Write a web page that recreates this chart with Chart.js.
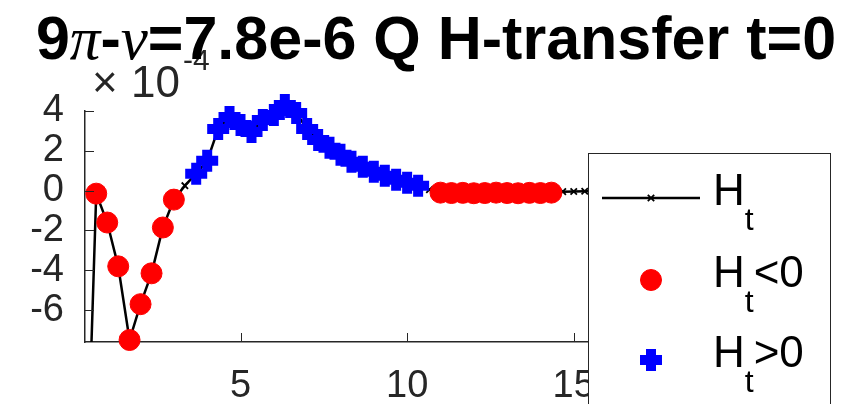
<!DOCTYPE html>
<html>
<head>
<meta charset="utf-8">
<script src="https://cdn.jsdelivr.net/npm/chart.js@4/dist/chart.umd.min.js"></script>
<style>
  html, body { margin: 0; padding: 0; background: #fff; }
  #wrap { width: 848px; height: 404px; }
</style>
</head>
<body>
<div id="wrap"><canvas id="htChart"></canvas></div>
<script>
// x positions (radial index / 3) and H_t values in units of 1e-4
const xs = [0.33, 0.67, 1, 1.33, 1.67, 2, 2.33, 2.67, 3, 3.33,
            3.67, 4, 4.33, 4.67, 5, 5.33, 5.67, 6, 6.33, 6.67,
            7, 7.33, 7.67, 8, 8.33, 8.67, 9, 9.33, 9.67, 10,
            10.33, 10.67, 11, 11.33, 11.67, 12, 12.33, 12.67, 13, 13.33,
            13.67, 14, 14.33, 14.67, 15, 15.33, 15.67, 16, 16.33, 16.67,
            17, 17.33, 17.67, 18, 18.33, 18.67, 19, 19.33, 19.67, 20,
            20.33, 20.67, 21, 21.33]
const ht = [-18, -0.15, -1.6, -3.8, -7.5, -5.7, -4.15, -1.85, -0.45, 0.25,
            0.85, 1.5, 3.1, 3.7, 3.3, 2.95, 3.55, 3.8, 4.3, 3.9,
            3.1, 2.55, 2.15, 1.8, 1.45, 1.2, 0.95, 0.75, 0.55, 0.4,
            0.25, 0.05, -0.1, -0.12, -0.11, -0.13, -0.12, -0.1, -0.12, -0.13,
            -0.11, -0.12, -0.1, -0.05, -0.04, -0.03, -0.03, -0.02, -0.03, -0.02,
            -0.02, -0.01, -0.02, -0.01, -0.01, -0.01, -0.01, 0, -0.01, 0,
            0, 0, 0, 0]
// which points get the coloured markers
const negIdx = [1, 2, 3, 4, 5, 6, 7, 8, 32, 33, 34, 35, 36, 37, 38, 39, 40, 41, 42]
const posIdx = [10, 11, 12, 13, 14, 15, 16, 17, 18, 19, 20, 21, 22, 23, 24, 25, 26, 27, 28, 29, 30]

const xTicks = [5, 10, 15, 20]
const yTicks = [-6, -4, -2, 0, 2, 4]
const legendLabels = [['H', 't', ''], ['H', 't', '<0'], ['H', 't', '>0']]

const FONT = "'Liberation Sans', Arial, Helvetica, sans-serif"
const AXIS = '#262626'

const pts = idx => idx.map(i => ({ x: xs[i], y: ht[i] }))

// inward tick marks, MATLAB style
const tickMarks = {
    id: 'tickMarks',
    afterDatasetsDraw(chart) {
        const { ctx, chartArea: a, scales } = chart
        ctx.save()
        ctx.strokeStyle = AXIS
        ctx.lineWidth = 1
        ctx.beginPath()
        xTicks.forEach(v => {
            const px = Math.round(scales.x.getPixelForValue(v)) + 0.5
            ctx.moveTo(px, a.bottom)
            ctx.lineTo(px, a.bottom - 9)
        })
        yTicks.forEach(v => {
            const py = Math.round(scales.y.getPixelForValue(v)) + 0.5
            ctx.moveTo(a.left, py)
            ctx.lineTo(a.left + 9, py)
        })
        ctx.stroke()
        ctx.restore()
    }
}

// exponent label and title
const titleAndExp = {
    id: 'titleAndExp',
    afterDraw(chart) {
        const { ctx, chartArea: a } = chart
        ctx.save()
        ctx.fillStyle = AXIS
        ctx.textBaseline = 'alphabetic'
        ctx.font = '44px ' + FONT
        ctx.fillText('\u00d7', 92, 97)
        ctx.fillText('10', 131, 97)
        ctx.font = '30px ' + FONT
        ctx.fillText('-4', 183, 70)

        const parts = [
            ['9', 'bold 61px ' + FONT],
            ['\u03c0', 'italic 61px "Liberation Serif", serif'],
            ['-', 'bold 61px ' + FONT],
            ['\u03bd', 'italic 61px "Liberation Serif", serif'],
            ['=7.8e-6 Q H-transfer t=0', 'bold 61px ' + FONT]
        ]
        let total = 0
        parts.forEach(p => { ctx.font = p[1]; total += ctx.measureText(p[0]).width })
        let x = (a.left + a.right) / 2 - total / 2
        ctx.fillStyle = '#000'
        parts.forEach(p => {
            ctx.font = p[1]
            ctx.fillText(p[0], x, 59)
            x += ctx.measureText(p[0]).width
        })
        ctx.restore()
    }
}

// boxed legend drawn over the right part of the axes
const boxLegend = {
    id: 'boxLegend',
    afterDraw(chart) {
        const ctx = chart.ctx
        const ds = chart.data.datasets
        const left = 588, top = 153
        ctx.save()
        ctx.fillStyle = '#fff'
        ctx.fillRect(left, top, 242, 270)
        ctx.strokeStyle = AXIS
        ctx.lineWidth = 1
        ctx.strokeRect(left + 0.5, top + 0.5, 242, 270)

        const rowY = [198, 280, 360]
        legendLabels.forEach((lab, i) => {
            const y = rowY[i]
            const d = ds[i]
            if (i === 0) {
                ctx.strokeStyle = d.borderColor
                ctx.lineWidth = d.borderWidth
                ctx.beginPath()
                ctx.moveTo(602, y)
                ctx.lineTo(700, y)
                ctx.stroke()
            }
            ctx.fillStyle = d.pointBackgroundColor
            ctx.strokeStyle = d.pointBorderColor
            ctx.lineWidth = d.pointBorderWidth
            Chart.helpers.drawPoint(ctx, {
                pointStyle: d.pointStyle,
                radius: d.pointRadius,
                borderWidth: d.pointBorderWidth,
                rotation: 0
            }, 651, y)

            ctx.fillStyle = '#000'
            ctx.font = '44px ' + FONT
            ctx.fillText(lab[0], 713, y + 7)
            let x = 713 + ctx.measureText(lab[0]).width
            ctx.font = '32px ' + FONT
            ctx.fillText(lab[1], x, y + 32)
            x += ctx.measureText(lab[1]).width
            ctx.font = '44px ' + FONT
            ctx.fillText(lab[2], x, y + 7)
        })
        ctx.restore()
    }
}

new Chart(document.getElementById('htChart'), {
    type: 'scatter',
    data: {
        datasets: [{
            label: 'H_t',
            data: xs.map((x, i) => ({ x: x, y: ht[i] })),
            showLine: true,
            borderColor: '#000',
            borderWidth: 2.5,
            pointStyle: 'crossRot',
            pointRadius: 4.5,
            pointBorderWidth: 1.8,
            pointBorderColor: '#000',
            pointBackgroundColor: '#000',
            clip: 0,
            order: 3
        }, {
            label: 'H_t<0',
            data: pts(negIdx),
            showLine: false,
            pointStyle: 'circle',
            pointRadius: 10.5,
            pointBorderWidth: 1,
            pointBorderColor: '#ff0000',
            pointBackgroundColor: '#ff0000',
            clip: false,
            order: 2
        }, {
            label: 'H_t>0',
            data: pts(posIdx),
            showLine: false,
            pointStyle: 'cross',
            pointRadius: 11,
            pointBorderWidth: 10,
            pointBorderColor: '#0000ff',
            pointBackgroundColor: '#0000ff',
            clip: false,
            order: 1
        }]
    },
    options: {
        responsive: true,
        maintainAspectRatio: false,
        animation: false,
        layout: { padding: { top: 111, right: 61, left: 0, bottom: 0 } },
        plugins: {
            legend: { display: false },
            tooltip: { enabled: false }
        },
        scales: {
            x: {
                type: 'linear',
                min: 0.333,
                max: 21.4,
                afterBuildTicks: axis => { axis.ticks = xTicks.map(v => ({ value: v })) },
                afterFit: s => { s.height = 62 },
                grid: { display: false, drawTicks: false },
                border: { display: true, color: AXIS, width: 1.5 },
                ticks: { color: AXIS, padding: 22, maxRotation: 0, autoSkip: false, font: { family: FONT, size: 38 } }
            },
            y: {
                min: -7.6,
                max: 4,
                afterBuildTicks: axis => { axis.ticks = yTicks.map(v => ({ value: v })) },
                afterFit: s => { s.width = 85 },
                grid: { display: false, drawTicks: false },
                border: { display: true, color: AXIS, width: 1.5 },
                ticks: { color: AXIS, padding: 21, autoSkip: false, font: { family: FONT, size: 38 } }
            }
        }
    },
    plugins: [tickMarks, titleAndExp, boxLegend]
})
</script>
</body>
</html>
